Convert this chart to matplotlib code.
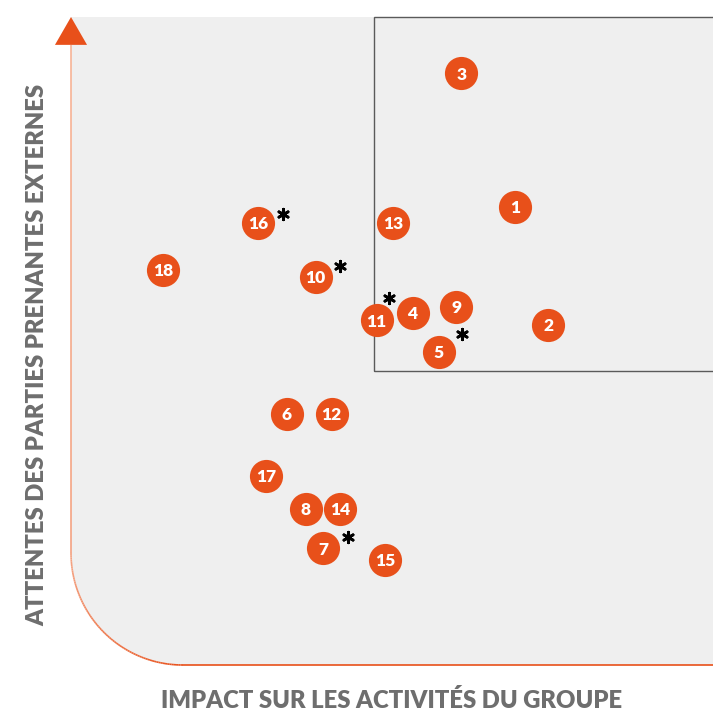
import numpy as np
import matplotlib.pyplot as plt
import matplotlib.transforms as mtransforms
from matplotlib.collections import LineCollection
from matplotlib.patches import Polygon, Rectangle
from matplotlib.colors import LinearSegmentedColormap

# enjeux de la matrice de materialite
ids = [1, 2, 3, 4, 5, 6, 7, 8, 9, 10, 11, 12, 13, 14, 15, 16, 17, 18]
impact = [69.2, 74.3, 60.8, 53.2, 57.3, 33.6, 39.3, 36.6, 60.0,
          38.1, 47.6, 40.6, 50.2, 41.9, 48.9, 29.1, 30.4, 14.3]
attentes = [70.7, 52.5, 91.3, 54.3, 48.3, 38.8, 18.0, 24.1, 55.3,
            59.9, 53.2, 38.8, 68.2, 24.1, 16.2, 68.2, 29.2, 61.0]
starred = [5, 7, 10, 11, 16]

xlabel = 'IMPACT SUR LES ACTIVITÉS DU GROUPE'
ylabel = 'ATTENTES DES PARTIES PRENANTES EXTERNES'

ORANGE = '#e8501a'
GREY_TXT = '#6e6e6e'

fig = plt.figure(figsize=(7.13, 7.11), dpi=100)
ax = fig.add_axes([71 / 713, 46 / 711, 642 / 713, 648 / 711])
ax.set_xlim(0, 100)
ax.set_ylim(0, 100)
ax.axis('off')

# fond gris avec coin arrondi
rx, ry = 17.4, 17.3
t = np.linspace(np.pi, 1.5 * np.pi, 80)
arc_x = rx + rx * np.cos(t)
arc_y = ry + ry * np.sin(t)
bg = [(0, 100), (0, ry)] + list(zip(arc_x, arc_y)) + [(100, 0), (100, 100)]
ax.add_patch(Polygon(bg, closed=True, fc='#efefef', ec='none', zorder=0))

# axe gauche + arrondi en degrade, puis axe du bas
left_y = np.linspace(95.7, ry, 60)
px = np.concatenate([np.zeros_like(left_y), arc_x])
py = np.concatenate([left_y, arc_y])
pts = np.column_stack([px, py]).reshape(-1, 1, 2)
segs = np.concatenate([pts[:-1], pts[1:]], axis=1)
cmap = LinearSegmentedColormap.from_list('ax', ['#f7b497', '#f4a07f', ORANGE])
vals = np.concatenate([np.linspace(0, 0.45, len(left_y)), np.linspace(0.45, 1, len(arc_x))])[:-1]
lc = LineCollection(segs, cmap=cmap, linewidths=1.2, zorder=1, clip_on=False)
lc.set_array(vals)
ax.add_collection(lc)
ax.plot([rx, 100], [0, 0], color=ORANGE, lw=1.2, zorder=1, clip_on=False)

# fleche
ax.add_patch(Polygon([(0, 100), (-2.5, 95.7), (2.5, 95.7)], closed=True,
                     fc=ORANGE, ec='none', clip_on=False, zorder=2))

# zone des enjeux prioritaires
ax.add_patch(Rectangle((47.2, 45.4), 54, 54.6, fill=False, ec='#5a5a5a',
                       lw=1.0, clip_on=False, zorder=1))

ax.scatter(impact, attentes, s=570, c=ORANGE, linewidths=0, zorder=3)
for i, x, y in zip(ids, impact, attentes):
    ax.text(x, y - 0.2, str(i), color='white', fontsize=12.5, fontweight='heavy',
            family='Lato', ha='center', va='center', zorder=4)

star_off = {5: (23, 18), 7: (25, 11), 10: (24, 11), 11: (12, 22), 16: (25, 9)}
for i in starred:
    dx, dy = star_off[i]
    tr = mtransforms.offset_copy(ax.transData, fig=fig, x=dx, y=dy, units='dots')
    ax.scatter([impact[i - 1]], [attentes[i - 1]], marker=(6, 2, 0), s=58,
               c='black', linewidths=2.0, transform=tr, zorder=4, clip_on=False)

fig.text(392 / 713, 1 - 701 / 711, xlabel, ha='center', va='center',
         fontsize=17.2, fontweight='heavy', family='Lato', color=GREY_TXT)
fig.text(37 / 713, 1 - 355 / 711, ylabel, ha='center', va='center', rotation=90,
         fontsize=17.2, fontweight='heavy', family='Lato', color=GREY_TXT)

fig.savefig('out.png', dpi=100)
